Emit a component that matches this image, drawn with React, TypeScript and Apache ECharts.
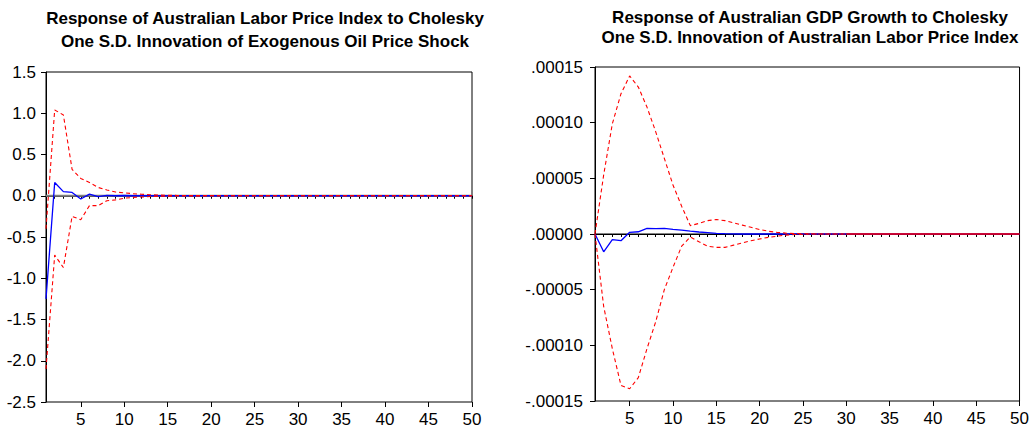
import React, { useEffect, useRef } from "react";
import * as echarts from "echarts";

// Impulse-response horizon: periods 1..50
const periods: number[] = Array.from({ length: 50 }, (_, i) => i + 1);
const labelPeriods = [5, 10, 15, 20, 25, 30, 35, 40, 45, 50];

// Left panel: labor price index response to an oil price shock
const lpiResponse = [
  -1.25, 0.16, 0.05, 0.04, -0.04, 0.02, -0.01, 0.005, 0.0, 0.003,
  0.0, 0.001, 0, 0, 0, 0, 0, 0, 0, 0,
  0, 0, 0, 0, 0, 0, 0, 0, 0, 0,
  0, 0, 0, 0, 0, 0, 0, 0, 0, 0,
  0, 0, 0, 0, 0, 0, 0, 0, 0, 0,
];
const lpiUpper = [
  -0.4, 1.04, 0.98, 0.32, 0.21, 0.16, 0.1, 0.07, 0.045, 0.035,
  0.025, 0.018, 0.012, 0.008, 0.006, 0.004, 0.003, 0.002, 0.001, 0.001,
  0, 0, 0, 0, 0, 0, 0, 0, 0, 0,
  0, 0, 0, 0, 0, 0, 0, 0, 0, 0,
  0, 0, 0, 0, 0, 0, 0, 0, 0, 0,
];
const lpiLower = [
  -2.1, -0.72, -0.87, -0.25, -0.29, -0.12, -0.12, -0.06, -0.05, -0.03,
  -0.02, -0.015, -0.01, -0.007, -0.005, -0.003, -0.002, -0.001, -0.001, 0,
  0, 0, 0, 0, 0, 0, 0, 0, 0, 0,
  0, 0, 0, 0, 0, 0, 0, 0, 0, 0,
  0, 0, 0, 0, 0, 0, 0, 0, 0, 0,
];
const lpiTicks = [1.5, 1.0, 0.5, 0.0, -0.5, -1.0, -1.5, -2.0, -2.5];

// Right panel: GDP growth response to a labor price index shock (in units of 1e-5)
const E5 = 1e-5;
const gdpResponseE5 = [
  0, -1.6, -0.5, -0.6, 0.15, 0.2, 0.5, 0.48, 0.5, 0.42,
  0.35, 0.25, 0.18, 0.12, 0.06, 0.03, 0.01, 0, 0, 0,
  0, 0, 0, 0, 0, 0, 0, 0, 0, 0,
  0, 0, 0, 0, 0, 0, 0, 0, 0, 0,
  0, 0, 0, 0, 0, 0, 0, 0, 0, 0,
];
const gdpUpperE5 = [
  0, 5.3, 9.9, 12.6, 14.2, 13.2, 11.4, 9.2, 6.8, 4.4,
  2.5, 0.75, 0.95, 1.2, 1.3, 1.2, 1.0, 0.8, 0.6, 0.4,
  0.25, 0.15, 0.08, 0.04, 0.02, 0.01, 0, 0, 0, 0,
  0, 0, 0, 0, 0, 0, 0, 0, 0, 0,
  0, 0, 0, 0, 0, 0, 0, 0, 0, 0,
];
const gdpLowerE5 = [
  0, -6.5, -10.3, -13.6, -13.9, -12.9, -10.3, -7.9, -5.0, -3.0,
  -1.1, -0.27, -0.7, -1.1, -1.2, -1.2, -1.0, -0.8, -0.6, -0.45,
  -0.3, -0.2, -0.1, -0.05, -0.02, 0, 0, 0, 0, 0,
  0, 0, 0, 0, 0, 0, 0, 0, 0, 0,
  0, 0, 0, 0, 0, 0, 0, 0, 0, 0,
];
const gdpTicksE5 = [15, 10, 5, 0, -5, -10, -15];
// Period from which both GDP bands sit on zero and their dashes merge into one line
const gdpBandsMergeAt = 30;

const leftTitle = [
  "Response of Australian Labor Price Index to Cholesky",
  "One S.D. Innovation of Exogenous Oil Price Shock",
];
const rightTitle = [
  "Response of Australian GDP Growth to Cholesky",
  "One S.D. Innovation of Australian Labor Price Index",
];

const FONT = "'Liberation Sans', Arial, sans-serif";

const pairs = (ys: number[], scale = 1) => periods.map((p, i) => [p, ys[i] * scale]);

const gdpLabel = (v: number) => {
  const s = Math.abs(v).toFixed(5).replace(/^0/, "");
  return (v < -1e-12 ? "-" : "") + s;
};

export default function App() {
  const ref = useRef<HTMLDivElement>(null);

  useEffect(() => {
    if (!ref.current) return;
    const chart = echarts.init(ref.current, undefined, { renderer: "svg" });

    const xBase = (gridIndex: number) => ({
      type: "value" as const,
      gridIndex,
      min: 1,
      max: 50,
      interval: 1,
      axisLine: { show: true, lineStyle: { color: "#000", width: 1 } },
      axisTick: {
        show: true,
        inside: false,
        length: 3,
        customValues: periods,
        lineStyle: { color: "#000", width: 1 },
      },
      axisLabel: {
        show: true,
        customValues: labelPeriods,
        color: "#000",
        fontSize: 17,
        fontFamily: FONT,
        margin: 9,
      },
      splitLine: { show: false },
    });
    const xMajor = (gridIndex: number) => ({
      type: "value" as const,
      gridIndex,
      min: 1,
      max: 50,
      interval: 1,
      position: "bottom" as const,
      axisLine: { show: false },
      axisTick: {
        show: true,
        inside: false,
        length: 5,
        customValues: labelPeriods,
        lineStyle: { color: "#000", width: 1 },
      },
      axisLabel: { show: false },
      splitLine: { show: false },
    });

    const yCommon = {
      type: "value" as const,
      axisLine: { show: true, lineStyle: { color: "#000", width: 1 } },
      axisTick: { show: true, inside: false, length: 5, lineStyle: { color: "#000" } },
      splitLine: { show: false },
    };

    const band = (xi: number, yi: number, data: number[][], solid = false) => ({
      type: "line" as const,
      xAxisIndex: xi,
      yAxisIndex: yi,
      data,
      showSymbol: false,
      symbol: "none",
      z: 4,
      lineStyle: { color: "#ff0000", width: 1.1, type: solid ? ("solid" as const) : ([4, 3] as number[]) },
    });

    const titleTexts = (cx: number, lines: string[], y1: number, y2: number) =>
      lines.map((t, i) => ({
        type: "text" as const,
        x: cx,
        y: i === 0 ? y1 : y2,
        style: {
          text: t,
          fill: "#000",
          font: `bold 17px ${FONT}`,
          textAlign: "center",
          textVerticalAlign: "middle",
        },
      }));

    const gdpUpper = pairs(gdpUpperE5, E5);
    const gdpLower = pairs(gdpLowerE5, E5);
    const cut = gdpBandsMergeAt - 1;

    chart.setOption({
      animation: false,
      backgroundColor: "#fff",
      grid: [
        { left: 46, top: 72, width: 426, height: 330, show: true, borderColor: "#000", borderWidth: 1, backgroundColor: "transparent" },
        { left: 595, top: 67, width: 429, height: 334, show: true, borderColor: "#000", borderWidth: 1, backgroundColor: "transparent" },
      ],
      xAxis: [xBase(0), xBase(1), xMajor(0), xMajor(1)],
      yAxis: [
        {
          ...yCommon,
          gridIndex: 0,
          min: -2.5,
          max: 1.5,
          interval: 0.5,
          axisLabel: {
            color: "#000",
            fontSize: 17,
            fontFamily: FONT,
            margin: 10,
            customValues: lpiTicks,
            formatter: (v: number) => v.toFixed(1),
          },
          axisTick: { ...yCommon.axisTick, customValues: lpiTicks },
        },
        {
          ...yCommon,
          gridIndex: 1,
          min: -15 * E5,
          max: 15 * E5,
          interval: 5 * E5,
          axisLabel: {
            color: "#000",
            fontSize: 17,
            fontFamily: FONT,
            margin: 12,
            customValues: gdpTicksE5.map((t) => t * E5),
            formatter: gdpLabel,
          },
          axisTick: { ...yCommon.axisTick, customValues: gdpTicksE5.map((t) => t * E5) },
        },
      ],
      graphic: [
        ...titleTexts(265, leftTitle, 18, 41),
        ...titleTexts(810, rightTitle, 17, 37),
      ],
      series: [
        {
          type: "line",
          xAxisIndex: 0,
          yAxisIndex: 0,
          data: pairs(periods.map(() => 0)),
          showSymbol: false,
          symbol: "none",
          z: 1,
          lineStyle: { color: "#808080", width: 2 },
        },
        {
          type: "line",
          xAxisIndex: 0,
          yAxisIndex: 0,
          data: pairs(lpiResponse),
          showSymbol: false,
          symbol: "none",
          z: 3,
          lineStyle: { color: "#0000ff", width: 1.3 },
        },
        band(0, 0, pairs(lpiUpper)),
        band(0, 0, pairs(lpiLower)),
        {
          type: "line",
          xAxisIndex: 1,
          yAxisIndex: 1,
          data: pairs(periods.map(() => 0)),
          showSymbol: false,
          symbol: "none",
          z: 1,
          lineStyle: { color: "#000", width: 1 },
        },
        {
          type: "line",
          xAxisIndex: 1,
          yAxisIndex: 1,
          data: pairs(gdpResponseE5, E5),
          showSymbol: false,
          symbol: "none",
          z: 3,
          lineStyle: { color: "#0000ff", width: 1.3 },
        },
        band(1, 1, gdpUpper.slice(0, cut + 1)),
        band(1, 1, gdpLower.slice(0, cut + 1)),
        band(1, 1, gdpUpper.slice(cut), true),
        band(1, 1, gdpLower.slice(cut), true),
      ],
    });

    return () => chart.dispose();
  }, []);

  return (
    <div
      ref={ref}
      style={{ position: "fixed", left: 0, top: 0, width: 1032, height: 433, background: "#fff" }}
    />
  );
}
